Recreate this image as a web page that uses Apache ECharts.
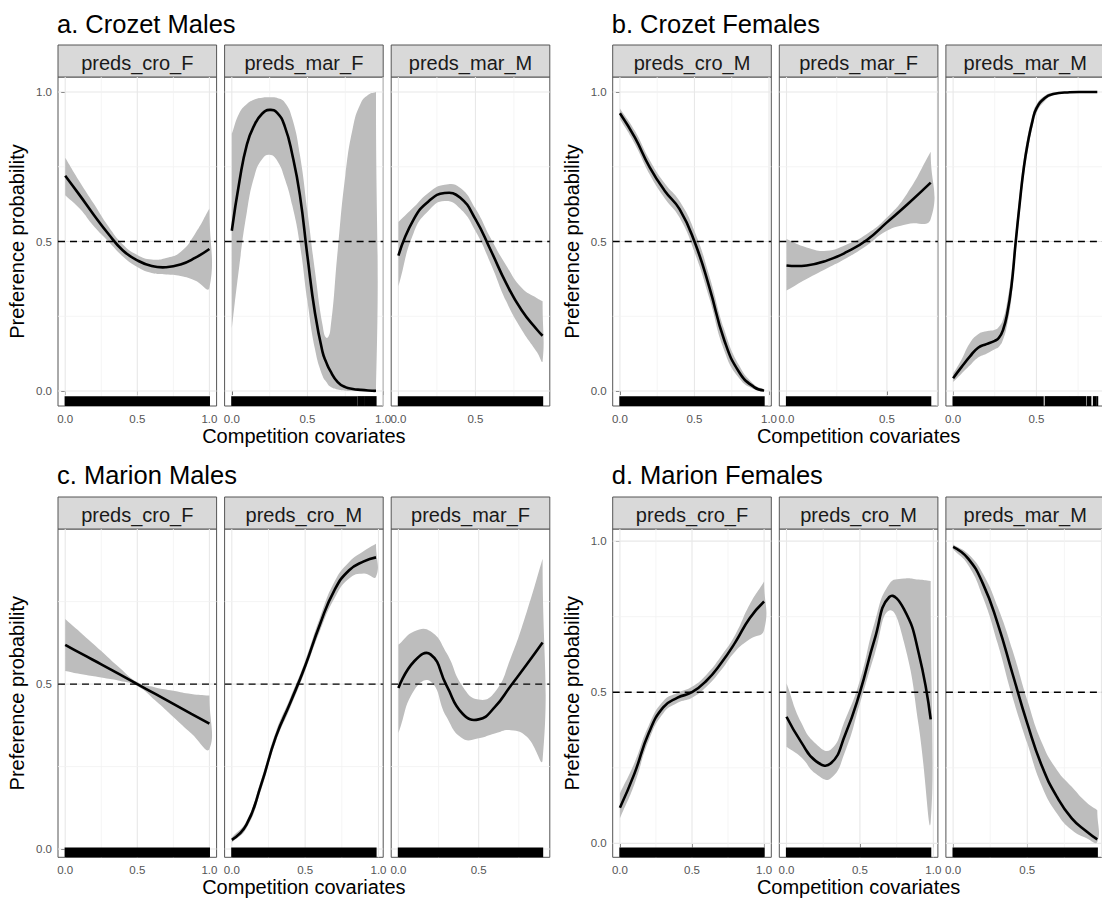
<!DOCTYPE html>
<html>
<head>
<meta charset="utf-8">
<script src="https://cdn.jsdelivr.net/npm/echarts@6/dist/echarts.min.js"></script>
<style>html,body{margin:0;padding:0;background:#fff}#c{width:1102px;height:899px}</style>
</head>
<body>
<div id="c"></div>
<script>
// ===================== DATA =====================
// Panel titles and strip labels
const panelTitles = ['a. Crozet Males', 'b. Crozet Females', 'c. Marion Males', 'd. Marion Females'];
const stripsA = ['preds_cro_F', 'preds_mar_F', 'preds_mar_M'];
const stripsB = ['preds_cro_M', 'preds_mar_F', 'preds_mar_M'];
const stripsC = ['preds_cro_F', 'preds_cro_M', 'preds_mar_F'];
const stripsD = ['preds_cro_F', 'preds_cro_M', 'preds_mar_M'];
const xTitle = 'Competition covariates';
const yTitle = 'Preference probability';
const majorTicks = [0, 0.5, 1.0];
const minorTicks = [0.25, 0.75];
const refLine = 0.5;

// a. Crozet Males
const a1_x   = [0, 0.1, 0.2, 0.3, 0.4, 0.5, 0.6, 0.7, 0.8, 0.9, 1.0];
const a1_fit = [0.72, 0.655, 0.588, 0.525, 0.47, 0.437, 0.418, 0.414, 0.423, 0.445, 0.475];
const a1_hi  = [0.78, 0.70, 0.625, 0.55, 0.49, 0.455, 0.44, 0.445, 0.465, 0.525, 0.61];
const a1_lo  = [0.655, 0.61, 0.55, 0.50, 0.45, 0.415, 0.395, 0.39, 0.385, 0.37, 0.345];

const a2_x   = [0, 0.05, 0.1, 0.15, 0.2, 0.25, 0.3, 0.35, 0.4, 0.45, 0.5, 0.55, 0.6, 0.625, 0.65, 0.7, 0.75, 0.8, 0.85, 0.9, 0.953];
const a2_fit = [0.536, 0.70, 0.825, 0.89, 0.927, 0.94, 0.93, 0.885, 0.79, 0.655, 0.45, 0.26, 0.13, 0.095, 0.068, 0.03, 0.013, 0.007, 0.004, 0.002, 0.001];
const a2_hi  = [0.86, 0.93, 0.96, 0.975, 0.981, 0.982, 0.98, 0.965, 0.91, 0.79, 0.60, 0.40, 0.22, 0.178, 0.2, 0.47, 0.72, 0.88, 0.96, 0.99, 1.0];
const a2_lo  = [0.21, 0.42, 0.6, 0.72, 0.775, 0.79, 0.77, 0.71, 0.62, 0.49, 0.30, 0.14, 0.05, 0.03, 0.015, 0.005, 0.001, 0, 0, 0, 0];

const a3_x   = [0, 0.1, 0.2, 0.3, 0.4, 0.5, 0.6, 0.7, 0.8, 0.9, 0.936];
const a3_fit = [0.453, 0.575, 0.636, 0.662, 0.647, 0.575, 0.47, 0.36, 0.27, 0.205, 0.185];
const a3_hi  = [0.565, 0.615, 0.665, 0.69, 0.68, 0.61, 0.51, 0.42, 0.345, 0.31, 0.30];
const a3_lo  = [0.35, 0.53, 0.605, 0.635, 0.61, 0.535, 0.425, 0.30, 0.205, 0.13, 0.10];

// b. Crozet Females
const b1_x   = [0, 0.1, 0.2, 0.3, 0.4, 0.5, 0.6, 0.7, 0.8, 0.9, 0.967];
const b1_fit = [0.929, 0.848, 0.748, 0.67, 0.608, 0.5, 0.347, 0.17, 0.063, 0.013, 0.002];
const b1_hi  = [0.945, 0.87, 0.772, 0.695, 0.635, 0.535, 0.385, 0.205, 0.085, 0.022, 0.006];
const b1_lo  = [0.91, 0.826, 0.724, 0.645, 0.58, 0.465, 0.31, 0.135, 0.043, 0.006, 0.0];

const b2_x   = [0, 0.1, 0.2, 0.3, 0.4, 0.5, 0.6, 0.718];
const b2_fit = [0.42, 0.42, 0.436, 0.465, 0.505, 0.564, 0.623, 0.697];
const b2_hi  = [0.508, 0.48, 0.469, 0.49, 0.525, 0.58, 0.66, 0.80];
const b2_lo  = [0.336, 0.375, 0.41, 0.445, 0.487, 0.536, 0.558, 0.575];

const b3_x   = [0, 0.05, 0.1, 0.15, 0.2, 0.25, 0.275, 0.3, 0.325, 0.35, 0.375, 0.4, 0.425, 0.45, 0.475, 0.5, 0.55, 0.6, 0.7, 0.8, 0.865];
const b3_fit = [0.043, 0.08, 0.115, 0.145, 0.157, 0.168, 0.178, 0.205, 0.26, 0.35, 0.495, 0.63, 0.75, 0.835, 0.9, 0.945, 0.98, 0.993, 0.999, 1.0, 1.0];
const b3_hi  = [0.058, 0.105, 0.16, 0.19, 0.2, 0.205, 0.215, 0.24, 0.30, 0.395, 0.53, 0.665, 0.78, 0.86, 0.92, 0.958, 0.987, 0.997, 1.0, 1.0, 1.0];
const b3_lo  = [0.03, 0.058, 0.085, 0.112, 0.125, 0.14, 0.148, 0.172, 0.225, 0.31, 0.46, 0.595, 0.72, 0.81, 0.88, 0.93, 0.97, 0.988, 0.997, 0.999, 0.999];

// c. Marion Males
const c1_x   = [0, 0.125, 0.25, 0.375, 0.5, 0.625, 0.75, 0.875, 1.0];
const c1_fit = [0.619, 0.589, 0.56, 0.53, 0.5, 0.47, 0.44, 0.41, 0.38];
const c1_hi  = [0.697, 0.649, 0.60, 0.55, 0.506, 0.49, 0.48, 0.47, 0.465];
const c1_lo  = [0.54, 0.529, 0.52, 0.51, 0.494, 0.45, 0.40, 0.35, 0.303];

const c2_x   = [0, 0.1, 0.2, 0.3, 0.4, 0.5, 0.6, 0.7, 0.8, 0.9, 0.983];
const c2_fit = [0.028, 0.074, 0.195, 0.34, 0.445, 0.555, 0.68, 0.785, 0.845, 0.872, 0.884];
const c2_hi  = [0.035, 0.085, 0.21, 0.355, 0.46, 0.57, 0.70, 0.81, 0.87, 0.903, 0.925];
const c2_lo  = [0.02, 0.063, 0.18, 0.325, 0.43, 0.54, 0.66, 0.76, 0.82, 0.835, 0.825];

const c3_x   = [0, 0.1, 0.2, 0.3, 0.4, 0.5, 0.6, 0.7, 0.8, 0.898];
const c3_fit = [0.488, 0.57, 0.59, 0.495, 0.41, 0.393, 0.43, 0.495, 0.56, 0.626];
const c3_hi  = [0.619, 0.66, 0.66, 0.594, 0.493, 0.453, 0.475, 0.58, 0.72, 0.88];
const c3_lo  = [0.352, 0.483, 0.508, 0.40, 0.335, 0.336, 0.35, 0.36, 0.34, 0.271];

// d. Marion Females
const d1_x   = [0, 0.1, 0.2, 0.3, 0.4, 0.5, 0.6, 0.7, 0.8, 0.9, 1.0];
const d1_fit = [0.118, 0.23, 0.365, 0.45, 0.482, 0.5, 0.538, 0.595, 0.665, 0.745, 0.80];
const d1_hi  = [0.165, 0.265, 0.39, 0.47, 0.498, 0.518, 0.558, 0.618, 0.69, 0.79, 0.866];
const d1_lo  = [0.083, 0.195, 0.34, 0.43, 0.465, 0.482, 0.518, 0.572, 0.635, 0.675, 0.706];

const d2_x   = [0, 0.1, 0.2, 0.3, 0.4, 0.5, 0.6, 0.7, 0.8, 0.9, 0.982];
const d2_fit = [0.419, 0.335, 0.272, 0.264, 0.36, 0.5, 0.675, 0.815, 0.775, 0.63, 0.41];
const d2_hi  = [0.53, 0.40, 0.33, 0.31, 0.41, 0.54, 0.73, 0.858, 0.876, 0.873, 0.868];
const d2_lo  = [0.32, 0.285, 0.23, 0.215, 0.305, 0.463, 0.625, 0.77, 0.665, 0.39, 0.072];

const d3_x   = [0, 0.1, 0.2, 0.3, 0.4, 0.5, 0.6, 0.7, 0.8, 0.9, 0.972];
const d3_fit = [0.981, 0.943, 0.86, 0.728, 0.562, 0.397, 0.254, 0.154, 0.083, 0.039, 0.013];
const d3_hi  = [0.989, 0.958, 0.893, 0.783, 0.64, 0.474, 0.331, 0.243, 0.187, 0.135, 0.11];
const d3_lo  = [0.973, 0.922, 0.816, 0.662, 0.485, 0.331, 0.187, 0.099, 0.044, 0.017, 0.005];

// Rug coverage (x intervals of observations); gaps visible in two facets
const a2_rug = [[0, 0.826], [0.834, 0.85], [0.858, 0.87], [0.878, 0.953]];
const b3_rug = [[0, 0.54], [0.553, 0.698], [0.704, 0.735], [0.741, 0.795], [0.805, 0.826], [0.842, 0.855], [0.862, 0.867]];

// Panel y ranges (ggplot expanded)
const yRangeAB = [-0.05, 1.05];
const yRangeC = [-0.025, 0.97];
const yRangeD = [-0.046, 1.04];

// ===================== LAYOUT / STYLE =====================
const FONT = "'Liberation Sans', Arial, Helvetica, sans-serif";
const colLefts = [[58, 224.6, 391.2], [612.7, 779.3, 945.9]];
const facetW = 158.6;
const rowTop = [77, 529];
const rowH = [329, 328.3];
const stripH = 32;
const CANVAS_W = 1102;
const SMOOTH = 0.5;

function fullRug(x) { return [[0, x[x.length - 1]]]; }
function F(x, fit, hi, lo, rug) { return { x, fit, hi, lo, rug: rug || fullRug(x) }; }

const panels = [
  { title: panelTitles[0], col: 0, row: 0, y: yRangeAB, strips: stripsA,
    facets: [F(a1_x, a1_fit, a1_hi, a1_lo), F(a2_x, a2_fit, a2_hi, a2_lo, a2_rug), F(a3_x, a3_fit, a3_hi, a3_lo)] },
  { title: panelTitles[1], col: 1, row: 0, y: yRangeAB, strips: stripsB,
    facets: [F(b1_x, b1_fit, b1_hi, b1_lo), F(b2_x, b2_fit, b2_hi, b2_lo), F(b3_x, b3_fit, b3_hi, b3_lo, b3_rug)] },
  { title: panelTitles[2], col: 0, row: 1, y: yRangeC, strips: stripsC,
    facets: [F(c1_x, c1_fit, c1_hi, c1_lo), F(c2_x, c2_fit, c2_hi, c2_lo), F(c3_x, c3_fit, c3_hi, c3_lo)] },
  { title: panelTitles[3], col: 1, row: 1, y: yRangeD, strips: stripsD,
    facets: [F(d1_x, d1_fit, d1_hi, d1_lo), F(d2_x, d2_fit, d2_hi, d2_lo), F(d3_x, d3_fit, d3_hi, d3_lo)] }
];

const grids = [], xAxes = [], yAxes = [], series = [], graphics = [];
const fmt = v => Number(v).toFixed(1);

function txt(x, y, text, size, color, align, rotation) {
  const el = { type: 'text', x, y, silent: true,
    style: { text, fill: color, font: size + 'px ' + FONT, fontSize: size, fontFamily: FONT,
      textAlign: align, align: align, textVerticalAlign: 'middle', verticalAlign: 'middle' } };
  if (rotation) el.rotation = rotation;
  return el;
}

let gi = 0;
panels.forEach(p => {
  const top = rowTop[p.row], h = rowH[p.row];
  const lefts = colLefts[p.col];
  const yr = p.y;
  graphics.push(txt(lefts[0] - 1, top - stripH - (p.row === 0 ? 21.5 : 22.5), p.title, 25.5, '#000', 'left'));
  graphics.push(txt((lefts[0] + lefts[2] + facetW) / 2, top + h + 30, xTitle, 20, '#000', 'center'));
  graphics.push(txt(p.col === 0 ? 17 : 572.4, top + h / 2, yTitle, 20, '#000', 'center', Math.PI / 2));

  p.facets.forEach((f, k) => {
    const left = lefts[k];
    const xmax = f.x[f.x.length - 1];
    const xr = [-0.05 * xmax, 1.05 * xmax];
    graphics.push({ type: 'rect', silent: true,
      shape: { x: left, y: top - stripH, width: facetW, height: stripH },
      style: { fill: '#d9d9d9', stroke: '#555', lineWidth: 1 } });
    graphics.push(txt(left + facetW / 2, top - stripH + 17.5, p.strips[k], 20, '#1a1a1a', 'center'));

    grids.push({ left, top, width: facetW, height: h, show: true, borderColor: '#555', borderWidth: 1,
      backgroundColor: 'transparent', containLabel: false, outerBoundsMode: 'none' });

    const xVals = majorTicks.filter(v => v >= xr[0] && v <= xr[1] &&
      left + (v - xr[0]) / (xr[1] - xr[0]) * facetW < CANVAS_W - 6);
    const yVals = majorTicks.filter(v => v >= yr[0] && v <= yr[1]);

    xAxes.push({ gridIndex: gi, type: 'value', min: xr[0], max: xr[1],
      axisLine: { show: false }, splitLine: { show: false },
      axisTick: { show: true, length: 4, customValues: xVals, lineStyle: { color: '#333', width: 1 } },
      axisLabel: { show: true, customValues: xVals, formatter: fmt, fontSize: 11.5, color: '#555', fontFamily: FONT, margin: 7 } });
    yAxes.push({ gridIndex: gi, type: 'value', min: yr[0], max: yr[1],
      axisLine: { show: false }, splitLine: { show: false },
      axisTick: { show: k === 0, length: 4, customValues: yVals, lineStyle: { color: '#333', width: 1 } },
      axisLabel: { show: k === 0, customValues: yVals, formatter: fmt, fontSize: 11.5, color: '#555', fontFamily: FONT, margin: 6 } });

    // gridlines
    const gl = [];
    majorTicks.forEach(v => { if (v > xr[0] && v < xr[1]) gl.push([0, v, 1]); if (v > yr[0] && v < yr[1]) gl.push([1, v, 1]); });
    minorTicks.forEach(v => { if (v > xr[0] && v < xr[1]) gl.push([0, v, 0]); if (v > yr[0] && v < yr[1]) gl.push([1, v, 0]); });
    series.push({ type: 'custom', xAxisIndex: gi, yAxisIndex: gi, z: 1, silent: true, data: gl,
      renderItem: (params, api) => {
        const dir = api.value(0), v = api.value(1), major = api.value(2);
        const p0 = dir === 0 ? api.coord([v, yr[0]]) : api.coord([xr[0], v]);
        const p1 = dir === 0 ? api.coord([v, yr[1]]) : api.coord([xr[1], v]);
        return { type: 'line', shape: { x1: p0[0], y1: p0[1], x2: p1[0], y2: p1[1] },
          style: { stroke: major ? '#e8e8e8' : '#f3f3f3', lineWidth: major ? 1.1 : 0.8 } };
      } });

    // ribbon (confidence band)
    series.push({ type: 'custom', xAxisIndex: gi, yAxisIndex: gi, z: 2, silent: true,
      data: [[f.x[0], f.fit[0]]],
      renderItem: (params, api) => {
        const up = f.x.map((x, i) => api.coord([x, f.hi[i]]));
        const dn = f.x.map((x, i) => api.coord([x, f.lo[i]])).reverse();
        const pts = [up[0].slice()].concat(up, [up[up.length - 1].slice()], dn, [dn[dn.length - 1].slice()]);
        return { type: 'polygon', shape: { points: pts, smooth: SMOOTH }, style: { fill: '#bdbdbd', stroke: null } };
      } });

    // dashed reference line at 0.5
    series.push({ type: 'custom', xAxisIndex: gi, yAxisIndex: gi, z: 3, silent: true,
      data: [[xr[0], refLine]],
      renderItem: (params, api) => {
        const p0 = api.coord([xr[0], refLine]), p1 = api.coord([xr[1], refLine]);
        return { type: 'line', shape: { x1: p0[0], y1: p0[1], x2: p1[0], y2: p1[1] },
          style: { stroke: '#000', lineWidth: 1.3, lineDash: [7, 5] } };
      } });

    // fitted line
    series.push({ type: 'custom', xAxisIndex: gi, yAxisIndex: gi, z: 4, silent: true,
      data: [[f.x[0], f.fit[0]]],
      renderItem: (params, api) => {
        const pts = f.x.map((x, i) => api.coord([x, f.fit[i]]));
        return { type: 'polyline', shape: { points: pts, smooth: SMOOTH },
          style: { stroke: '#000', lineWidth: 2.6, fill: null, lineJoin: 'round', lineCap: 'butt' } };
      } });

    // rug
    series.push({ type: 'custom', xAxisIndex: gi, yAxisIndex: gi, z: 4, silent: true,
      data: f.rug,
      renderItem: (params, api) => {
        const x0 = api.value(0), x1 = api.value(1);
        const a = api.coord([x0, yr[0]]), b = api.coord([x1, yr[0]]);
        const t = api.coord([x0, yr[0] + 0.03 * (yr[1] - yr[0])])[1];
        return { type: 'rect', shape: { x: a[0] - 0.6, y: t, width: Math.max(b[0] - a[0] + 1.2, 1.2), height: a[1] - t },
          style: { fill: '#000' } };
      } });
    gi++;
  });
});

const chart = echarts.init(document.getElementById('c'), null, { renderer: 'svg', width: 1102, height: 899 });
chart.setOption({
  animation: false,
  backgroundColor: '#fff',
  textStyle: { fontFamily: FONT },
  grid: grids, xAxis: xAxes, yAxis: yAxes, series, graphic: { elements: graphics }
});
</script>
</body>
</html>
